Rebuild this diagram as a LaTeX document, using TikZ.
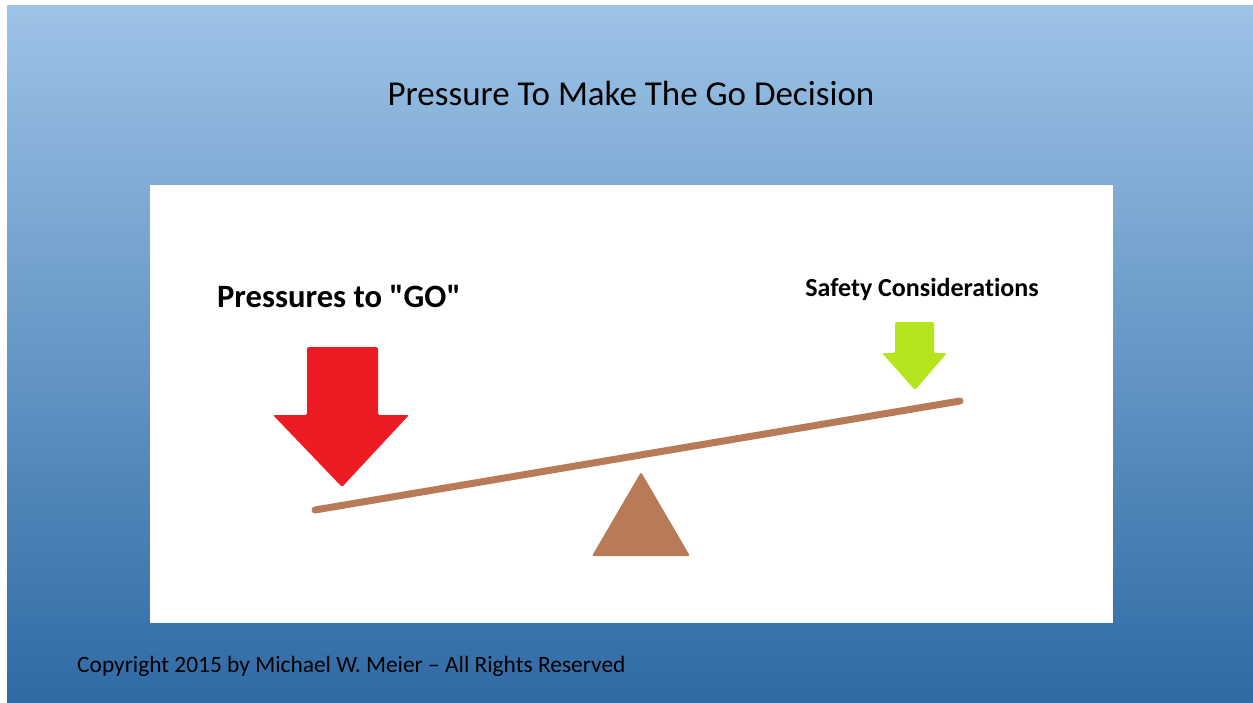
\documentclass[tikz,border=0pt]{standalone}
\usepackage{fontspec}
\setmainfont{Carlito}
\newfontfamily\plainquotes[Ligatures=NoCommon]{Carlito}
\definecolor{skytop}{RGB}{157,195,230}
\definecolor{skybot}{RGB}{47,106,165}
\definecolor{gored}{RGB}{237,28,36}
\definecolor{safegreen}{RGB}{181,230,29}
\definecolor{beamwood}{RGB}{185,122,87}
\tikzset{
  label/.style={inner sep=0pt, anchor=base},
  bigarrow/.style={line join=round, rounded corners=1.5pt},
}
\begin{document}
\begin{tikzpicture}[x=1pt, y=-1pt]
\useasboundingbox (0,0) rectangle (1253,702);
% background and panel
\shade[top color=skytop, bottom color=skybot] (7,5) rectangle (1253,702);
\fill[white] (150,185) rectangle (1113,623);
\node[label, font=\fontsize{35}{42}\selectfont] (title) at (631,105) {Pressure To Make The Go Decision};
\node[label, font=\fontsize{23.4}{28}\selectfont, anchor=base west] (copy) at (77,672) {Copyright 2015 by Michael W. Meier -- All Rights Reserved};
% labels
\node[label, font=\plainquotes\bfseries\fontsize{32.6}{39}\selectfont] (go) at (339,307) {Pressures to "GO"};
\node[label, font=\plainquotes\bfseries\fontsize{26}{31}\selectfont] (safe) at (922,296) {Safety Considerations};
% arrows
\fill[gored, bigarrow] (307,347) -- (378,347) -- (378,415) -- (409,415) -- (342,487) -- (273,415) -- (307,415) -- cycle;
\fill[safegreen, bigarrow] (895,322) -- (934,322) -- (934,353) -- (947,353) -- (915,390) -- (882,353) -- (895,353) -- cycle;
% seesaw
\coordinate (left) at (315,510);
\coordinate (right) at (960,401);
\draw[beamwood, line width=7pt, line cap=round] (left) -- (right);
\fill[beamwood, rounded corners=2pt] (641,472) -- (690,556) -- (592,556) -- cycle;
\end{tikzpicture}
\end{document}
